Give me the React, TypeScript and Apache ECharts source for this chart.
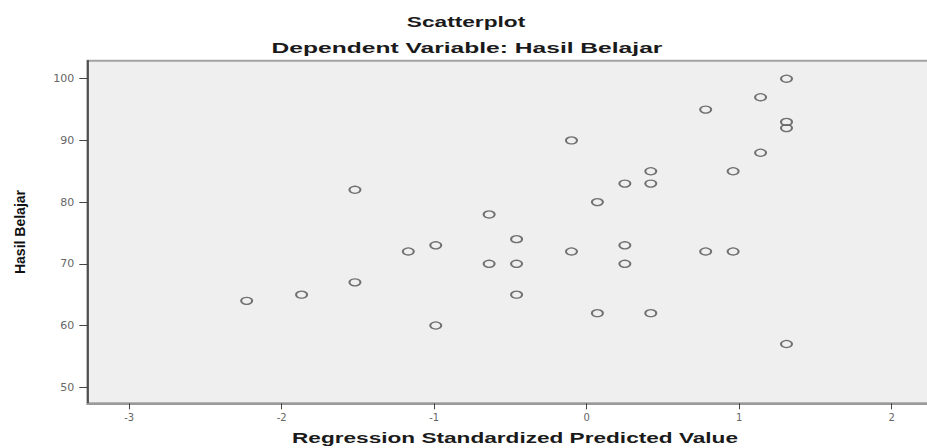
import React, { useEffect, useRef } from "react";
import * as echarts from "echarts";

const titleText = "Scatterplot";
const subtitleText = "Dependent Variable: Hasil Belajar";
const xAxisTitle = "Regression Standardized Predicted Value";
const yAxisTitle = "Hasil Belajar";

// Regression standardized predicted values (x) and Hasil Belajar (y)
const predicted = [
  -2.23, -1.87, -1.52, -1.52, -1.17, -0.99, -0.99, -0.64, -0.64, -0.46, -0.46,
  -0.46, -0.1, -0.1, 0.07, 0.07, 0.25, 0.25, 0.25, 0.42, 0.42, 0.42, 0.78, 0.78,
  0.96, 0.96, 1.14, 1.14, 1.31, 1.31, 1.31, 1.31,
];
const hasilBelajar = [
  64, 65, 82, 67, 72, 73, 60, 78, 70, 74, 70, 65, 90, 72, 80, 62, 83, 73, 70, 85,
  83, 62, 95, 72, 85, 72, 97, 88, 100, 93, 92, 57,
];

const xTicks = [-3, -2, -1, 0, 1, 2];
const yTicks = [50, 60, 70, 80, 90, 100];

export default function App() {
  const ref = useRef<HTMLDivElement>(null);

  useEffect(() => {
    if (!ref.current) return;
    const chart = echarts.init(ref.current, undefined, { renderer: "svg" });
    const points = predicted.map((x, i) => [x, hasilBelajar[i]]);

    chart.setOption({
      animation: false,
      backgroundColor: "#ffffff",
      grid: {
        left: 87.3,
        top: 60.7,
        right: -3,
        bottom: 44.7,
        show: true,
        backgroundColor: "#efefef",
        borderColor: "#a3a3a3",
        borderWidth: 2,
        containLabel: false,
        outerBoundsMode: "none",
      },
      graphic: [
        {
          type: "text",
          x: 466,
          y: 22,
          scaleX: 1.62,
          style: {
            text: titleText,
            font: "bold 14px 'Liberation Sans', Arial, sans-serif",
            fill: "#1a1a1a",
            align: "center",
            verticalAlign: "middle",
          },
        },
        {
          type: "text",
          x: 467,
          y: 48,
          scaleX: 1.64,
          style: {
            text: subtitleText,
            font: "bold 15px 'Liberation Sans', Arial, sans-serif",
            fill: "#1a1a1a",
            align: "center",
            verticalAlign: "middle",
          },
        },
        {
          type: "text",
          x: 515,
          y: 438,
          scaleX: 1.56,
          style: {
            text: xAxisTitle,
            font: "bold 14.5px 'Liberation Sans', Arial, sans-serif",
            fill: "#1a1a1a",
            align: "center",
            verticalAlign: "middle",
          },
        },
      ],
      xAxis: {
        type: "value",
        min: -3.275,
        max: 2.251,
        splitLine: { show: false },
        axisLine: {
          show: true,
          onZero: false,
          lineStyle: { color: "#9a9a9a", width: 2 },
        },
        axisTick: {
          show: true,
          length: 6,
          customValues: xTicks,
          lineStyle: { color: "#444", width: 1 },
        },
        axisLabel: {
          customValues: xTicks,
          margin: 9,
          fontSize: 10,
          fontFamily: "'DejaVu Sans', sans-serif",
          color: "#666",
        },
      },
      yAxis: {
        type: "value",
        min: 47.39,
        max: 102.92,
        name: yAxisTitle,
        nameLocation: "middle",
        nameGap: 60,
        nameRotate: 90,
        nameTextStyle: {
          fontFamily: "'Liberation Sans Narrow', 'Liberation Sans', sans-serif",
          fontWeight: "bold",
          fontSize: 14,
          color: "#111",
        },
        splitLine: { show: false },
        axisLine: {
          show: true,
          onZero: false,
          lineStyle: { color: "#333", width: 1.5 },
        },
        axisTick: {
          show: true,
          length: 8,
          customValues: yTicks,
          lineStyle: { color: "#444", width: 1 },
        },
        axisLabel: {
          customValues: yTicks,
          margin: 13,
          fontSize: 11,
          fontFamily: "'DejaVu Sans', sans-serif",
          color: "#666",
        },
      },
      series: [
        {
          type: "scatter",
          data: points,
          symbol: "circle",
          symbolSize: [11, 7],
          itemStyle: {
            color: "transparent",
            borderColor: "#505050",
            borderWidth: 1.6,
          },
        },
      ],
    });

    return () => chart.dispose();
  }, []);

  return (
    <div
      ref={ref}
      style={{ position: "absolute", left: 0, top: 0, width: 927, height: 448 }}
    />
  );
}
